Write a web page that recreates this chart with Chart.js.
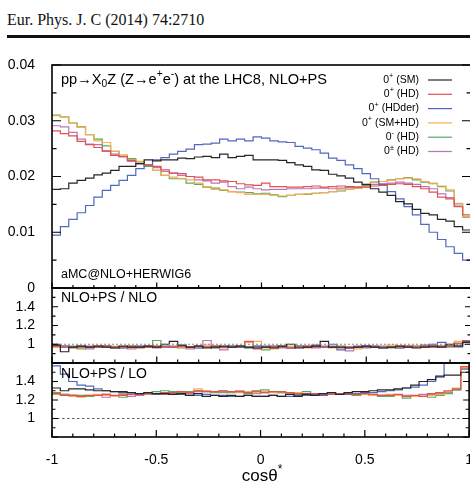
<!DOCTYPE html>
<html><head><meta charset="utf-8">
<script src="https://cdn.jsdelivr.net/npm/chart.js@4.4.1/dist/chart.umd.min.js"></script>
<style>
html,body{margin:0;padding:0;background:#fff;overflow:hidden;width:470px;height:484px;}
#hdr{position:absolute;left:7px;top:12px;font:16px/16px "Liberation Serif","Times New Roman",serif;color:#111;white-space:nowrap;}
#rule{position:absolute;left:7px;top:35px;width:470px;height:3px;background:#111;}
canvas{position:absolute;left:0;top:0;width:480px;height:484px;}
</style></head><body>
<div id="hdr">Eur. Phys. J. C (2014) 74:2710</div><div id="rule"></div>
<canvas id="c1" width="480" height="484"></canvas>
<canvas id="c2" width="480" height="484"></canvas>
<canvas id="c3" width="480" height="484"></canvas>
<script>
// ---------------- data ----------------
const X_MIN = -1, X_MAX = 1, N_BINS = 50;
const BIN_EDGES = Array.from({length: N_BINS + 1}, (_, i) => X_MIN + i * (X_MAX - X_MIN) / N_BINS);

const SERIES_LABELS = ['0+ (SM)', '0+ (HD)', '0+ (HDder)', '0+ (SM+HD)', '0- (HD)', '0± (HD)'];

// main panel: normalised distributions
const SM = [0.0177,0.0178,0.0188,0.0193,0.0197,0.0203,0.0206,0.0211,0.0218,0.0218,0.0223,0.0230,0.0228,0.0230,0.0230,0.0233,0.0232,0.0235,0.0236,0.0234,0.0240,0.0234,0.0236,0.0238,0.0230,0.0230,0.0230,0.0229,0.0225,0.0221,0.0218,0.0212,0.0211,0.0204,0.0201,0.0197,0.0190,0.0186,0.0178,0.0172,0.0166,0.0155,0.0151,0.0141,0.0134,0.0131,0.0123,0.0120,0.0110,0.0104];
const HD = [0.0282,0.0277,0.0273,0.0263,0.0257,0.0252,0.0246,0.0238,0.0236,0.0229,0.0223,0.0220,0.0218,0.0212,0.0206,0.0205,0.0200,0.0199,0.0194,0.0194,0.0192,0.0191,0.0187,0.0185,0.0184,0.0188,0.0182,0.0182,0.0181,0.0181,0.0182,0.0183,0.0181,0.0182,0.0183,0.0182,0.0181,0.0181,0.0183,0.0184,0.0186,0.0187,0.0186,0.0182,0.0178,0.0172,0.0163,0.0160,0.0146,0.0131];
const HDDER = [0.0095,0.0110,0.0123,0.0135,0.0148,0.0163,0.0175,0.0184,0.0193,0.0202,0.0214,0.0221,0.0230,0.0234,0.0240,0.0245,0.0249,0.0257,0.0258,0.0260,0.0267,0.0264,0.0267,0.0264,0.0271,0.0269,0.0264,0.0262,0.0261,0.0254,0.0251,0.0248,0.0242,0.0233,0.0229,0.0221,0.0214,0.0205,0.0196,0.0186,0.0173,0.0160,0.0146,0.0131,0.0114,0.0100,0.0087,0.0074,0.0062,0.0050];
const SMHD = [0.0309,0.0307,0.0296,0.0288,0.0275,0.0264,0.0261,0.0245,0.0239,0.0230,0.0227,0.0220,0.0211,0.0202,0.0199,0.0196,0.0194,0.0188,0.0182,0.0177,0.0176,0.0173,0.0171,0.0168,0.0168,0.0168,0.0166,0.0165,0.0166,0.0168,0.0169,0.0170,0.0171,0.0173,0.0176,0.0177,0.0179,0.0182,0.0190,0.0191,0.0193,0.0196,0.0197,0.0196,0.0191,0.0188,0.0183,0.0176,0.0152,0.0128];
const PS = [0.0310,0.0307,0.0296,0.0289,0.0275,0.0267,0.0255,0.0245,0.0236,0.0232,0.0226,0.0218,0.0211,0.0202,0.0196,0.0196,0.0188,0.0186,0.0181,0.0179,0.0175,0.0173,0.0172,0.0171,0.0169,0.0170,0.0167,0.0164,0.0166,0.0168,0.0168,0.0170,0.0171,0.0173,0.0174,0.0177,0.0179,0.0184,0.0190,0.0191,0.0194,0.0196,0.0198,0.0194,0.0190,0.0187,0.0182,0.0174,0.0151,0.0127];
const PM = [0.0291,0.0289,0.0279,0.0267,0.0258,0.0257,0.0245,0.0240,0.0235,0.0227,0.0223,0.0220,0.0216,0.0209,0.0206,0.0202,0.0200,0.0194,0.0192,0.0188,0.0190,0.0182,0.0178,0.0181,0.0178,0.0176,0.0177,0.0177,0.0178,0.0178,0.0178,0.0179,0.0179,0.0178,0.0179,0.0180,0.0181,0.0182,0.0186,0.0187,0.0188,0.0190,0.0188,0.0186,0.0182,0.0178,0.0169,0.0162,0.0147,0.0128];

// ratio NLO+PS / NLO
const SM_NLO = [0.99,0.92,0.97,0.98,0.97,0.98,0.97,0.96,0.98,0.97,0.97,0.98,0.97,1.00,1.03,0.99,0.97,0.98,0.96,0.97,0.98,0.97,0.98,0.97,0.96,0.97,0.96,0.98,1.00,0.96,0.97,0.98,1.03,0.97,0.97,0.96,0.97,0.98,0.97,0.96,0.97,0.98,0.97,0.96,0.97,0.98,0.97,1.00,0.98,1.02];
const HD_NLO = [0.98,0.97,0.96,0.97,0.98,0.97,0.98,0.97,0.97,0.98,0.96,0.97,0.98,0.97,0.97,0.98,0.97,0.98,0.97,0.98,0.97,0.97,0.98,1.03,0.95,0.97,0.98,0.97,0.96,0.97,0.98,0.97,0.98,0.97,0.96,0.97,0.97,0.98,0.97,0.96,0.97,0.97,0.98,0.97,0.98,0.97,0.98,0.99,1.01,1.04];
const HDDER_NLO = [1.00,0.98,0.97,0.98,0.97,0.97,0.98,0.97,0.96,0.97,0.98,0.97,0.97,0.98,0.97,0.98,0.97,0.96,0.97,0.98,0.97,0.98,0.97,0.97,0.98,0.98,0.97,0.97,0.96,0.98,0.97,0.99,0.97,1.00,0.94,0.97,0.98,0.97,0.98,0.97,0.97,0.96,0.98,0.97,0.99,1.00,1.02,0.98,1.01,1.03];
const SMHD_NLO = [0.97,0.98,0.97,0.96,0.97,0.98,0.97,0.98,0.97,0.96,0.98,0.97,0.98,0.97,0.98,0.97,0.96,0.98,0.99,0.97,0.96,0.98,0.97,1.02,1.03,0.96,0.95,0.97,0.98,0.97,0.96,0.98,0.97,0.96,0.98,0.97,0.95,0.97,0.98,0.97,0.99,0.98,0.97,0.98,0.97,0.98,0.98,0.97,1.03,1.03];
const PS_NLO = [0.98,0.97,0.98,0.95,0.97,0.98,0.97,0.96,0.97,0.98,0.97,0.98,1.04,0.97,0.97,0.96,0.97,0.98,0.97,0.96,0.97,0.98,0.97,0.96,0.98,0.94,0.97,0.98,0.96,0.98,0.97,0.98,0.97,0.97,0.98,0.96,0.97,0.98,0.97,0.97,0.96,0.98,0.97,0.98,0.97,0.97,0.98,0.97,0.99,1.03];
const PM_NLO = [0.97,0.98,0.97,0.96,0.95,0.97,0.98,0.97,0.96,0.95,0.97,0.98,0.96,0.97,0.98,0.97,0.95,0.96,1.04,0.96,0.94,0.97,0.98,0.96,0.97,0.97,0.98,0.96,0.97,0.97,0.98,0.96,0.97,0.98,0.97,0.93,0.97,0.96,0.97,0.98,0.97,0.96,0.97,0.98,0.97,0.98,0.97,0.98,0.97,1.02];

// ratio NLO+PS / LO
const SM_LO = [1.33,1.30,1.32,1.32,1.31,1.30,1.30,1.29,1.29,1.28,1.27,1.28,1.27,1.27,1.26,1.27,1.25,1.27,1.24,1.25,1.24,1.25,1.24,1.25,1.24,1.24,1.25,1.24,1.26,1.24,1.26,1.25,1.27,1.28,1.26,1.28,1.29,1.29,1.30,1.31,1.31,1.32,1.33,1.36,1.40,1.42,1.45,1.47,1.47,1.50];
const HD_LO = [1.27,1.25,1.25,1.24,1.25,1.25,1.26,1.25,1.25,1.26,1.26,1.27,1.27,1.28,1.28,1.29,1.28,1.30,1.29,1.29,1.30,1.29,1.29,1.28,1.30,1.28,1.29,1.29,1.28,1.27,1.27,1.27,1.26,1.26,1.27,1.27,1.26,1.27,1.26,1.25,1.25,1.26,1.24,1.25,1.24,1.27,1.28,1.30,1.32,1.56];
const HDDER_LO = [1.57,1.48,1.40,1.36,1.35,1.32,1.30,1.29,1.28,1.28,1.27,1.27,1.26,1.27,1.26,1.26,1.25,1.25,1.26,1.25,1.25,1.24,1.24,1.25,1.24,1.24,1.25,1.24,1.24,1.25,1.25,1.26,1.25,1.26,1.27,1.26,1.27,1.28,1.28,1.29,1.30,1.31,1.33,1.34,1.36,1.40,1.46,1.75,1.85,1.90];
const SMHD_LO = [1.26,1.25,1.24,1.23,1.25,1.26,1.25,1.24,1.27,1.26,1.27,1.26,1.27,1.27,1.28,1.29,1.28,1.32,1.30,1.29,1.30,1.29,1.28,1.29,1.28,1.29,1.28,1.29,1.27,1.28,1.27,1.26,1.26,1.27,1.27,1.26,1.27,1.26,1.25,1.25,1.26,1.25,1.24,1.24,1.24,1.25,1.26,1.29,1.33,1.55];
const PS_LO = [1.28,1.26,1.25,1.25,1.24,1.25,1.26,1.24,1.23,1.26,1.27,1.27,1.29,1.30,1.29,1.28,1.29,1.30,1.29,1.28,1.29,1.28,1.29,1.27,1.29,1.31,1.29,1.28,1.27,1.26,1.29,1.27,1.26,1.28,1.27,1.26,1.25,1.26,1.25,1.24,1.24,1.25,1.22,1.24,1.24,1.23,1.25,1.27,1.31,1.54];
const PM_LO = [1.27,1.26,1.25,1.24,1.24,1.25,1.23,1.24,1.26,1.24,1.25,1.26,1.27,1.26,1.27,1.28,1.27,1.29,1.30,1.29,1.28,1.29,1.30,1.28,1.27,1.28,1.29,1.28,1.27,1.26,1.27,1.25,1.26,1.27,1.26,1.26,1.25,1.26,1.25,1.25,1.24,1.25,1.25,1.24,1.26,1.26,1.27,1.28,1.31,1.53];

// ticks
const X_TICKS = [-1, -0.5, 0, 0.5, 1];
const X_TICK_LABELS = ['-1', '-0.5', '0', '0.5', '1'];
const X_MINOR = [-0.9,-0.8,-0.7,-0.6,-0.4,-0.3,-0.2,-0.1,0.1,0.2,0.3,0.4,0.6,0.7,0.8,0.9];
const MAIN_Y_TICKS = [0, 0.01, 0.02, 0.03, 0.04];
const MAIN_Y_LABELS = ['0', '0.01', '0.02', '0.03', '0.04'];
const MAIN_Y_MINOR = [0.005, 0.015, 0.025, 0.035];
const RATIO_Y_TICKS = [1, 1.2, 1.4];
const RATIO_Y_LABELS = ['1', '1.2', '1.4'];
const RATIO_Y_MAJOR_MARKS = [0.8, 1, 1.2, 1.4, 1.6];
const RATIO_Y_MINOR = [0.9, 1.1, 1.3, 1.5];

// ---------------- style ----------------
const COLORS = ['#262626', '#e2524e', '#5068bd', '#f6ad55', '#5aab5a', '#bb74bb'];
const FONT = '"Liberation Sans", Arial, Helvetica, sans-serif';
const LEGEND_PARTS = [
  [['0','n'],['+','sup'],[' (SM)','n']],
  [['0','n'],['+','sup'],[' (HD)','n']],
  [['0','n'],['+','sup'],[' (HDder)','n']],
  [['0','n'],['+','sup'],[' (SM+HD)','n']],
  [['0','n'],['-','sup'],[' (HD)','n']],
  [['0','n'],['±','sup'],[' (HD)','n']]
];

function hist(vals) {
  const pts = [];
  vals.forEach((v, i) => { pts.push({x: BIN_EDGES[i], y: v}, {x: BIN_EDGES[i + 1], y: v}); });
  return pts;
}
function makeSets(list) {
  return list.map((vals, i) => ({
    label: SERIES_LABELS[i], data: hist(vals), borderColor: COLORS[i],
    borderWidth: 1.2, pointRadius: 0, fill: false, tension: 0
  }));
}
function refLine(color, dash, w) {
  return {label: 'ref', data: [{x: X_MIN, y: 1}, {x: X_MAX, y: 1}], borderColor: color,
          borderDash: dash, borderWidth: w, pointRadius: 0, fill: false};
}

function drawParts(ctx, parts, x, y, size, align) {
  const fs = t => (t === 'n' ? size : size * 0.7);
  let total = 0;
  for (const [t, k] of parts) { ctx.font = fs(k) + 'px ' + FONT; total += ctx.measureText(t).width; }
  let cx = align === 'right' ? x - total : (align === 'center' ? x - total / 2 : x);
  ctx.textBaseline = 'middle'; ctx.textAlign = 'left';
  for (const [t, k] of parts) {
    ctx.font = fs(k) + 'px ' + FONT;
    const dy = k === 'sup' ? -size * 0.38 : (k === 'sub' ? size * 0.28 : 0);
    ctx.fillText(t, cx, y + dy);
    cx += ctx.measureText(t).width;
  }
}

const framePlugin = {
  id: 'frame',
  afterDatasetsDraw(chart, args, o) {
    const {ctx, chartArea: a} = chart;
    const x = chart.scales.x, y = chart.scales.y;
    ctx.save();
    ctx.strokeStyle = '#000'; ctx.lineWidth = 1.2;
    ctx.beginPath();
    const yl = (vals, len) => { for (const v of vals) { const p = y.getPixelForValue(v);
      ctx.moveTo(a.left, p); ctx.lineTo(a.left + len, p); ctx.moveTo(a.right, p); ctx.lineTo(a.right - len, p); } };
    const xl = (vals, len) => { for (const v of vals) { const p = x.getPixelForValue(v);
      ctx.moveTo(p, a.bottom); ctx.lineTo(p, a.bottom - len); } };
    yl(o.yMajor, o.yMajLen); yl(o.yMinor, o.yMinLen);
    xl(X_TICKS, o.xMajLen); xl(X_MINOR, o.xMinLen);
    ctx.stroke();
    ctx.lineWidth = 1.6;
    ctx.strokeRect(a.left, a.top, a.right - a.left, a.bottom - a.top);
    ctx.fillStyle = '#000';
    if (o.texts) o.texts(ctx, chart);
    ctx.restore();
  }
};

function makeChart(id, datasets, yMin, yMax, yTicks, yLabels, padTop, padBottom, showX, frameOpts) {
  return new Chart(document.getElementById(id), {
    type: 'line',
    data: {datasets},
    options: {
      responsive: false, maintainAspectRatio: false, animation: false, events: [],
      layout: {padding: {top: padTop, bottom: padBottom, left: 0, right: 9}},
      plugins: {legend: {display: false}, tooltip: {enabled: false}, frame: frameOpts},
      scales: {
        x: {type: 'linear', min: X_MIN, max: X_MAX, display: showX,
            grid: {display: false}, border: {display: false},
            afterBuildTicks: s => { s.ticks = X_TICKS.map(v => ({value: v})); },
            afterFit: s => { s.height = showX ? 47 : 0; },
            ticks: {autoSkip: false, maxRotation: 0, padding: 7, color: '#000',
                    font: {family: FONT, size: 14}, callback: (v, i) => X_TICK_LABELS[i]}},
        y: {min: yMin, max: yMax, grid: {display: false}, border: {display: false},
            afterFit: s => { s.width = 52; },
            afterBuildTicks: s => { s.ticks = yTicks.map(v => ({value: v})); },
            ticks: {padding: 9, color: '#000', font: {family: FONT, size: 14},
                    callback: (v, i) => yLabels[i]}}
      }
    },
    plugins: [framePlugin]
  });
}

// main panel
makeChart('c1', makeSets([SM, HD, HDDER, SMHD, PS, PM]), 0, 0.04, MAIN_Y_TICKS, MAIN_Y_LABELS, 65, 484 - 288, false, {
  yMajor: MAIN_Y_TICKS, yMinor: MAIN_Y_MINOR, yMajLen: 9, yMinLen: 4.5, xMajLen: 5.5, xMinLen: 3,
  texts: (ctx, chart) => {
    drawParts(ctx, [['pp→X','n'],['0','sub'],['Z (Z→e','n'],['+','sup'],['e','n'],['-','sup'],[') at the LHC8, NLO+PS','n']], 61, 80, 14.6, 'left');
    ctx.font = '12.5px ' + FONT;
    ctx.textBaseline = 'middle'; ctx.textAlign = 'left';
    ctx.fillText('aMC@NLO+HERWIG6', 61, 275);
    const rows = [80, 94.3, 108.6, 122.9, 137.2, 151.5];
    LEGEND_PARTS.forEach((parts, i) => {
      ctx.fillStyle = '#000';
      drawParts(ctx, parts, 419, rows[i], 10.5, 'right');
      ctx.strokeStyle = COLORS[i]; ctx.lineWidth = 1.2;
      ctx.beginPath(); ctx.moveTo(428, rows[i]); ctx.lineTo(452, rows[i]); ctx.stroke();
    });
  }
});

// NLO+PS / NLO
makeChart('c2', [refLine('#8a8a8a', [2, 2], 1.2)].concat(makeSets([SM_NLO, HD_NLO, HDDER_NLO, SMHD_NLO, PS_NLO, PM_NLO])),
  0.8, 1.6, RATIO_Y_TICKS, RATIO_Y_LABELS, 288, 484 - 363, false, {
  yMajor: RATIO_Y_MAJOR_MARKS, yMinor: RATIO_Y_MINOR, yMajLen: 6, yMinLen: 3.5, xMajLen: 6.5, xMinLen: 3.5,
  texts: (ctx) => { drawParts(ctx, [['NLO+PS / NLO','n']], 61, 298, 14, 'left'); }
});

// NLO+PS / LO
makeChart('c3', [refLine('#333', [2.5, 2.5], 0.8)].concat(makeSets([SM_LO, HD_LO, HDDER_LO, SMHD_LO, PS_LO, PM_LO])),
  0.8, 1.6, RATIO_Y_TICKS, RATIO_Y_LABELS, 363, 0, true, {
  yMajor: RATIO_Y_MAJOR_MARKS, yMinor: RATIO_Y_MINOR, yMajLen: 6, yMinLen: 3.5, xMajLen: 7, xMinLen: 3.5,
  texts: (ctx) => {
    drawParts(ctx, [['NLO+PS / LO','n']], 61, 374, 14, 'left');
    drawParts(ctx, [['cosθ','n'],['*','sup']], 262, 476, 17, 'center');
  }
});
</script>
</body></html>
